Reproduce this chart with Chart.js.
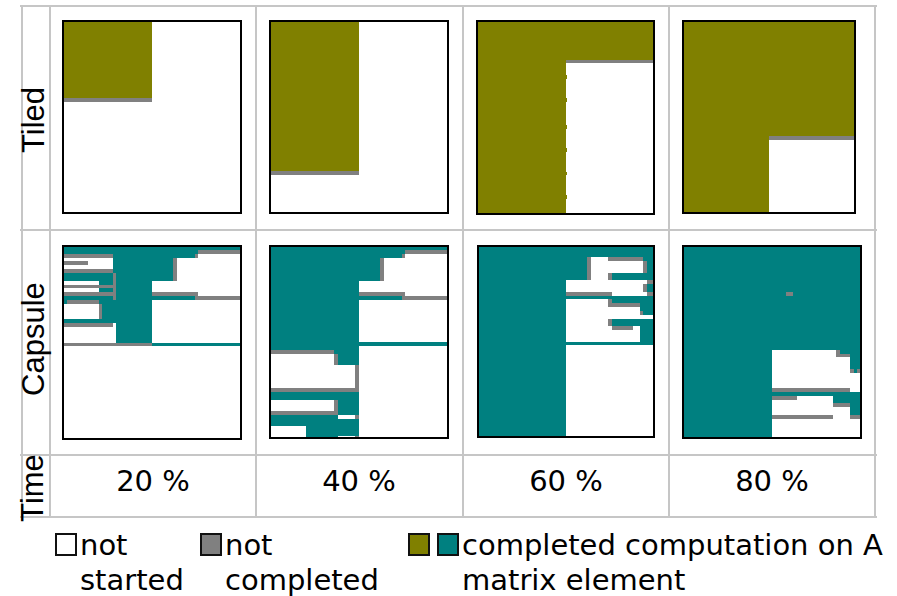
<!DOCTYPE html>
<html>
<head>
<meta charset="utf-8">
<title>Matrix computation progress: Tiled vs Capsule</title>
<script src="https://cdn.jsdelivr.net/npm/chart.js@4.4.1/dist/chart.umd.min.js"></script>
<style>
  html, body { margin: 0; padding: 0; background: #fff; }
  #page { position: relative; width: 897px; height: 596px; overflow: hidden; background: #fff; }
  .hline { position: absolute; height: 2px; background: #c6c6c6; }
  .vline { position: absolute; width: 2px; background: #c6c6c6; }
  .panel { position: absolute; }
  .panel canvas { display: block; }
  .rowlab { position: absolute; font-family: "Liberation Sans", Arial, sans-serif; font-size: 31px; line-height: 31px;
            white-space: nowrap; color: #000; transform: translate(-50%, -50%) rotate(-90deg); }
  .timelab { position: absolute; width: 206px; text-align: center; font-family: "DejaVu Sans", sans-serif;
             font-size: 29px; line-height: 29px; color: #000; white-space: nowrap; }
  .legtext { position: absolute; font-family: "DejaVu Sans", sans-serif; font-size: 29px; line-height: 35px;
             color: #000; white-space: nowrap; }
  .sw { position: absolute; width: 22px; height: 23px; box-sizing: border-box; border: 2px solid #111; }
</style>
</head>
<body>
<div id="page"></div>
<script>
// Column headings (elapsed time) and row headings (scheduling scheme)
const timeLabels = ['20 %', '40 %', '60 %', '80 %'];
const schemeLabels = ['Tiled', 'Capsule'];
const matrixSize = 50;

// Every block: [firstCol, endCol, firstRow, endRow], counted in matrix elements
const tiledDone20 = [[0, 25, 0, 20]];
const tiledBusy20 = [[0, 25, 20, 21]];
const tiledDone40 = [[0, 25, 0, 39]];
const tiledBusy40 = [[0, 25, 39, 40]];
const tiledDone60 = [[0, 50, 0, 10], [0, 25, 10, 50], [25, 25.3, 14, 15], [25, 25.3, 20, 21], [25, 25.3, 27, 28],
                     [25, 25.3, 33, 34], [25, 25.3, 39, 40], [25, 25.3, 45, 46]];
const tiledBusy60 = [[25, 50, 10, 11]];
const tiledDone80 = [[0, 50, 0, 30], [0, 25, 30, 50]];
const tiledBusy80 = [[25, 50, 30, 31]];

const capsuleDone20 = [[0, 50, 0, 1], [0, 38, 1, 2], [14, 37, 2, 3], [14, 31, 3, 9], [0, 14, 7, 9], [15, 25, 9, 25],
                       [10, 14, 9, 10], [10, 14, 11, 12], [0, 15, 13, 20], [25, 37, 13, 14], [25, 50, 25, 26]];
const capsuleIdle20 = [[0, 10, 15, 19]];
const capsuleBusy20 = [[38, 50, 1, 2], [0, 14, 2, 3], [37, 38, 2, 3], [0, 7, 4, 5], [0, 14, 6, 7], [14, 15, 7, 14],
                       [31, 32, 3, 9], [0, 14, 10, 11], [0, 14, 12, 13], [25, 38, 12, 13], [37, 50, 13, 14],
                       [1, 10, 14, 15], [10, 11, 15, 19], [0, 14, 20, 21], [0, 25, 25, 26]];

const capsuleDone40 = [[0, 50, 0, 1], [0, 38, 1, 2], [0, 37, 2, 3], [0, 31, 3, 9], [0, 25, 9, 50], [25, 37, 13, 14],
                       [25, 50, 25, 26]];
const capsuleIdle40 = [[0, 18, 28, 31], [0, 24, 31, 37], [0, 18, 40, 43], [19, 24, 44, 45], [0, 10, 47, 50],
                       [19, 24, 49.4, 50]];
const capsuleBusy40 = [[38, 50, 1, 2], [37, 38, 2, 3], [31, 32, 3, 9], [25, 38, 12, 13], [37, 50, 13, 14],
                       [0, 18, 27, 28], [18, 19, 28, 31], [24, 25, 31, 38], [0, 25, 37, 38], [18, 19, 40, 44],
                       [0, 19, 43, 44], [24, 25, 44, 45], [24, 25, 49.4, 50]];

const capsuleDone60 = [[0, 25, 0, 50], [25, 50, 0, 26]];
const capsuleIdle60 = [[32, 37, 3, 9], [37, 47, 4, 7], [25, 48, 9, 13], [25, 37, 14, 25], [37, 46, 16, 19],
                       [46, 50, 18, 19], [37, 46, 21, 25], [25, 50, 26, 50]];
const capsuleBusy60 = [[31, 32, 3, 9], [37, 47, 3, 4], [47, 48, 4, 7], [37, 38, 7, 9], [48, 50, 9, 10],
                       [47, 48, 10, 12], [48, 50, 12, 13], [25, 38, 12, 13], [37, 38, 14, 15], [37, 46, 15, 16],
                       [46, 47, 17, 18], [37, 38, 19, 21], [38, 44, 21, 22]];

const capsuleDone80 = [[0, 50, 0, 50]];
const capsuleIdle80 = [[25, 43, 27, 29], [25, 47, 29, 33], [25, 50, 33, 38], [32, 42, 39, 42], [25, 32, 40, 42],
                       [25, 47, 42, 45], [25, 50, 45, 50]];
const capsuleBusy80 = [[29, 31, 12, 13], [43, 44, 27, 28], [43, 47, 28, 29], [47, 48, 32, 33], [49, 50, 32, 33],
                       [25, 47, 37, 38], [25, 32, 39, 40], [42, 47, 41, 42], [25, 42, 44, 45], [47, 50, 44, 45]];

// State colours
const colTiled = '#808000';
const colCapsule = '#008080';
const colBusy = '#808080';
const colIdle = '#ffffff';

const page = document.getElementById('page');

function el(cls, css, text) {
  const d = document.createElement('div');
  d.className = cls;
  Object.assign(d.style, css);
  if (text !== undefined) d.textContent = text;
  page.appendChild(d);
  return d;
}

// Table rules
const ruleRows = [6, 230, 455, 517];
const ruleCols = [21.5, 50, 256, 463, 669, 875];
ruleRows.forEach(yy => el('hline', { left: '20px', top: (yy - 1) + 'px', width: '857px' }));
ruleCols.forEach(xx => el('vline', { left: (xx - 1) + 'px', top: '5px', height: '513px' }));

// Row headings
el('rowlab', { left: '33px', top: '120px' }, schemeLabels[0]);
el('rowlab', { left: '33px', top: '339px' }, schemeLabels[1]);
el('rowlab', { left: '32px', top: '488px' }, 'Time');

// Time headings
const colLefts = [50, 256, 463, 669];
timeLabels.forEach((t, i) => el('timelab', { left: colLefts[i] + 'px', top: '467px' }, t));

// Legend
el('sw', { left: '55px', top: '533px', background: colIdle });
el('legtext', { left: '80px', top: '528px' }).innerHTML = 'not<br>started';
el('sw', { left: '200px', top: '533px', background: colBusy });
el('legtext', { left: '225px', top: '528px' }).innerHTML = 'not<br>completed';
el('sw', { left: '408px', top: '533px', background: colTiled });
el('sw', { left: '437px', top: '533px', background: colCapsule });
el('legtext', { left: '462px', top: '528px' }).innerHTML = 'completed computation on A<br>matrix element';

// Paints each state layer as blocks through the chart's x/y scales, then frames the matrix
const matrixCells = {
  id: 'matrixCells',
  beforeDatasetsDraw(chart) {
    const { ctx, chartArea: a, scales: { x, y } } = chart;
    ctx.save();
    ctx.fillStyle = '#ffffff';
    ctx.fillRect(a.left, a.top, a.width, a.height);
    chart.data.datasets.forEach(ds => {
      ctx.fillStyle = ds.cellColor;
      ds.data.forEach(p => {
        const l = Math.round(x.getPixelForValue(p.x));
        let r = Math.round(x.getPixelForValue(p.x2));
        const t = Math.round(y.getPixelForValue(p.y));
        let b = Math.round(y.getPixelForValue(p.y2));
        if (r <= l) r = l + 1;
        if (b <= t) b = t + 1;
        ctx.fillRect(l, t, r - l, b - t);
      });
    });
    ctx.lineWidth = 2;
    ctx.strokeStyle = '#000000';
    ctx.strokeRect(a.left, a.top, a.width, a.height);
    ctx.restore();
  }
};

const toBlock = r => ({ x: r[0], x2: r[1], y: r[2], y2: r[3] });

// Matrix frames on the page: [left, top, right, bottom]
const panels = [
  { box: [63, 21, 241, 213], done: tiledDone20, idle: [], busy: tiledBusy20, color: colTiled },
  { box: [270, 21, 448, 213], done: tiledDone40, idle: [], busy: tiledBusy40, color: colTiled },
  { box: [477, 21, 654, 214], done: tiledDone60, idle: [], busy: tiledBusy60, color: colTiled },
  { box: [683, 21, 855, 213], done: tiledDone80, idle: [], busy: tiledBusy80, color: colTiled },
  { box: [63, 246, 241, 439], done: capsuleDone20, idle: capsuleIdle20, busy: capsuleBusy20, color: colCapsule },
  { box: [270, 246, 448, 438], done: capsuleDone40, idle: capsuleIdle40, busy: capsuleBusy40, color: colCapsule },
  { box: [478, 246, 654, 437], done: capsuleDone60, idle: capsuleIdle60, busy: capsuleBusy60, color: colCapsule },
  { box: [683, 246, 861, 438], done: capsuleDone80, idle: capsuleIdle80, busy: capsuleBusy80, color: colCapsule }
];

panels.forEach(p => {
  const [L, T, R, B] = p.box;
  const holder = el('panel', { left: (L - 1) + 'px', top: (T - 1) + 'px' });
  const cv = document.createElement('canvas');
  cv.width = R - L + 2;
  cv.height = B - T + 2;
  cv.style.width = cv.width + 'px';
  cv.style.height = cv.height + 'px';
  holder.appendChild(cv);
  new Chart(cv, {
    type: 'scatter',
    data: {
      datasets: [
        { label: 'completed', data: p.done.map(toBlock), cellColor: p.color, pointRadius: 0 },
        { label: 'not started', data: p.idle.map(toBlock), cellColor: colIdle, pointRadius: 0 },
        { label: 'not completed', data: p.busy.map(toBlock), cellColor: colBusy, pointRadius: 0 }
      ]
    },
    options: {
      responsive: false,
      devicePixelRatio: 1,
      animation: false,
      events: [],
      layout: { padding: 1 },
      plugins: { legend: { display: false }, tooltip: { enabled: false } },
      scales: {
        x: { type: 'linear', min: 0, max: matrixSize, display: false },
        y: { type: 'linear', min: 0, max: matrixSize, reverse: true, display: false }
      }
    },
    plugins: [matrixCells]
  });
});
</script>
</body>
</html>
